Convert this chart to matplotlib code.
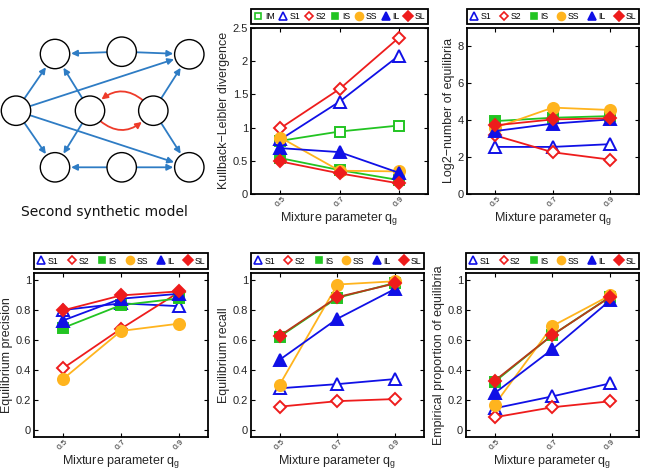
import matplotlib
matplotlib.use("Agg")
import matplotlib.pyplot as plt
from matplotlib.lines import Line2D
from matplotlib.patches import Circle, FancyArrowPatch

# ---------------- data ----------------
qg = [0.5, 0.7, 0.9]
xtick_labels = ["0.5", "0.7", "0.9"]

methods_kl = ["IM", "S1", "S2", "IS", "SS", "IL", "SL"]
methods = ["S1", "S2", "IS", "SS", "IL", "SL"]

kl = {
    "IM": [0.80, 0.94, 1.03],
    "S1": [0.82, 1.39, 2.08],
    "S2": [0.99, 1.58, 2.35],
    "IS": [0.54, 0.36, 0.21],
    "SS": [0.85, 0.35, 0.34],
    "IL": [0.69, 0.63, 0.32],
    "SL": [0.49, 0.31, 0.16],
}
log2_eq = {
    "S1": [2.55, 2.55, 2.70],
    "S2": [3.17, 2.26, 1.86],
    "IS": [3.95, 4.13, 4.22],
    "SS": [3.59, 4.68, 4.55],
    "IL": [3.41, 3.81, 4.04],
    "SL": [3.72, 4.04, 4.10],
}
precision = {
    "S1": [0.80, 0.845, 0.826],
    "S2": [0.41, 0.675, 0.92],
    "IS": [0.68, 0.833, 0.878],
    "SS": [0.338, 0.66, 0.709],
    "IL": [0.73, 0.876, 0.909],
    "SL": [0.798, 0.898, 0.925],
}
recall = {
    "S1": [0.276, 0.304, 0.338],
    "S2": [0.153, 0.19, 0.204],
    "IS": [0.622, 0.882, 0.982],
    "SS": [0.30, 0.971, 0.993],
    "IL": [0.467, 0.742, 0.942],
    "SL": [0.627, 0.887, 0.978],
}
proportion = {
    "S1": [0.142, 0.222, 0.309],
    "S2": [0.082, 0.149, 0.189],
    "IS": [0.32, 0.633, 0.889],
    "SS": [0.167, 0.693, 0.898],
    "IL": [0.244, 0.538, 0.864],
    "SL": [0.327, 0.633, 0.887],
}

# ---------------- styles ----------------
BLUE = "#1010e6"
RED = "#ee1c1c"
GREEN = "#22c422"
ORANGE = "#ffb41e"
style = {
    "IM": dict(marker="s", color=GREEN, mfc="white", ms=6.5),
    "S1": dict(marker="^", color=BLUE, mfc="white", ms=8),
    "S2": dict(marker="D", color=RED, mfc="white", ms=6),
    "IS": dict(marker="s", color=GREEN, mfc=GREEN, ms=6.5),
    "SS": dict(marker="o", color=ORANGE, mfc=ORANGE, ms=8),
    "IL": dict(marker="^", color=BLUE, mfc=BLUE, ms=8),
    "SL": dict(marker="D", color=RED, mfc=RED, ms=6.5),
}

plt.rcParams["font.family"] = ["Liberation Sans", "DejaVu Sans"]
TXT = "#262626"

fig = plt.figure(figsize=(6.48, 4.72), dpi=100)


def panel(rect, data, order, ylim, yticks, ylabel, sl_line=None):
    ax = fig.add_axes(rect)
    for m in order:
        st = style[m]
        lc = st["color"]
        if m == "SL" and sl_line is not None:
            lc = sl_line
        ax.plot(qg, data[m], color=lc, lw=1.3, marker=st["marker"], ms=st["ms"],
                mfc=st["mfc"], mec=st["color"], mew=1.4)
    ax.set_xlim(0.4, 1.0)
    ax.set_ylim(*ylim)
    ax.set_xticks(qg)
    ax.set_xticklabels(xtick_labels, rotation=45, ha="center", va="top",
                       fontsize=6, color=TXT)
    ax.set_yticks(yticks)
    ax.set_yticklabels([("%g" % v) for v in yticks], fontsize=8, color=TXT)
    ax.tick_params(direction="in", top=True, right=True, length=3, width=0.8,
                   pad=2)
    ax.tick_params(axis="x", pad=1)
    for s in ax.spines.values():
        s.set_linewidth(1.3)
    ax.set_xlabel(r"Mixture parameter $\mathregular{q_g}$", fontsize=9,
                  color=TXT, labelpad=1)
    ax.set_ylabel(ylabel, fontsize=9, color=TXT, labelpad=2)
    handles = []
    for m in order:
        st = style[m]
        handles.append(Line2D([], [], linestyle="none", marker=st["marker"],
                              ms=st["ms"] * 0.72, mfc=st["mfc"], mec=st["color"],
                              mew=1.2))
    leg = ax.legend(handles, order, ncol=len(order), loc="lower left",
                    bbox_to_anchor=(0, 1.025, 1, 0.115), mode="expand",
                    borderaxespad=0, fontsize=6.3, handlelength=1.0,
                    handletextpad=0.25, columnspacing=0.2, borderpad=0.35,
                    fancybox=False, framealpha=1)
    leg.get_frame().set_edgecolor("black")
    leg.get_frame().set_linewidth(1.3)
    return ax


H = 0.352
panel([0.387, 0.589, 0.274, H], kl, methods_kl, (0, 2.5),
      [0, 0.5, 1, 1.5, 2, 2.5], "Kullback\u2212Leibler divergence")
panel([0.720, 0.589, 0.266, H], log2_eq, methods, (0, 9),
      [0, 2, 4, 6, 8], "Log2\u2212number of equilibria")
ylim_b = (-0.05, 1.05)
yt_b = [0, 0.2, 0.4, 0.6, 0.8, 1]
panel([0.0525, 0.0742, 0.2685, 0.348], precision, methods, ylim_b, yt_b,
      "Equilibrium precision")
panel([0.387, 0.0742, 0.2674, 0.348], recall, methods, ylim_b, yt_b,
      "Equilibrium recall", sl_line="#b8381a")
panel([0.719, 0.0742, 0.267, 0.348], proportion, methods, ylim_b, yt_b,
      "Empirical proportion of equilibria", sl_line="#b8381a")

# ---------------- network diagram ----------------
nodes = {
    "tl": (55, 54), "tm": (121.7, 51.7), "tr": (189.3, 54.3),
    "l": (16, 110.7), "cl": (90, 110.7), "cr": (153.3, 110.7),
    "bl": (55, 167.3), "bm": (121.7, 167.3), "br": (189.3, 167.3),
}
blue_edges = [("tm", "tl"), ("tm", "tr"), ("bm", "bl"), ("bm", "br"),
              ("l", "tl"), ("l", "bl"), ("l", "tr"), ("l", "br"),
              ("cl", "tl"), ("cl", "bl"), ("cr", "tr"), ("cr", "br")]
red_edges = [("cr", "cl", 0.6), ("cl", "cr", 0.6)]

R = 14.7
axn = fig.add_axes([0, 1 - 230 / 472, 220 / 648, 230 / 472])
axn.set_xlim(0, 220)
axn.set_ylim(230, 0)
axn.axis("off")
px2pt = 72 / 100
for a, b in blue_edges:
    p = FancyArrowPatch(nodes[a], nodes[b], arrowstyle="-|>", mutation_scale=9,
                        color="#2e7cc4", lw=1.3, shrinkA=R * px2pt,
                        shrinkB=R * px2pt + 1)
    axn.add_patch(p)
for a, b, rad in red_edges:
    p = FancyArrowPatch(nodes[a], nodes[b], arrowstyle="-|>", mutation_scale=9,
                        color="#ee3b2a", lw=1.3, shrinkA=R * px2pt,
                        shrinkB=R * px2pt + 1, connectionstyle="arc3,rad=%g" % rad)
    axn.add_patch(p)
for k, (x, y) in nodes.items():
    axn.add_patch(Circle((x, y), R, facecolor="white", edgecolor="black",
                         lw=1.0, zorder=3))
axn.text(104, 212, "Second synthetic model", ha="center", va="center",
         fontsize=10, family="DejaVu Sans", color="#111111")

fig.savefig("out.png", dpi=100)
